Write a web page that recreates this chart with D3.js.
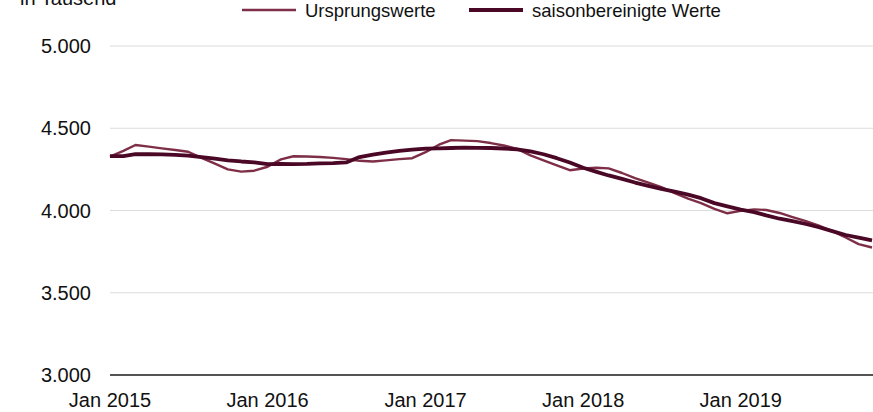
<!DOCTYPE html>
<html><head><meta charset="utf-8">
<script src="https://cdn.jsdelivr.net/npm/d3@7/dist/d3.min.js"></script>
<style>
body{margin:0;background:#fff;}
svg{display:block;font-family:"Liberation Sans",Arial,sans-serif;}
</style></head>
<body><svg id="chart" width="873" height="412"></svg>
<script>
// Monthly data, Jan 2015 – Nov 2019 (in Tausend)
const startYear = 2015;
const ursprungswerte = [
  4327,4362,4398,4388,4378,4368,4357,4320,4285,4250,4236,4242,
  4266,4311,4330,4328,4325,4320,4312,4302,4298,4305,4312,4318,
  4355,4400,4428,4425,4422,4410,4395,4375,4335,4305,4275,4245,
  4255,4260,4256,4228,4197,4170,4142,4105,4072,4045,4010,3983,
  3998,4007,4003,3985,3960,3935,3908,3875,3836,3796,3775
];
const saisonbereinigt = [
  4331,4330,4343,4342,4341,4338,4333,4325,4315,4305,4298,4293,
  4282,4283,4282,4283,4286,4288,4292,4325,4340,4352,4363,4370,
  4376,4378,4380,4382,4381,4380,4377,4372,4360,4342,4318,4292,
  4260,4235,4213,4192,4170,4150,4132,4115,4096,4075,4045,4025,
  4005,3990,3970,3950,3935,3918,3898,3875,3851,3835,3818
];
const yTicks = [3000,3500,4000,4500,5000];
const xTickLabels = ["Jan 2015","Jan 2016","Jan 2017","Jan 2018","Jan 2019"];
const seriesNames = ["Ursprungswerte","saisonbereinigte Werte"];
const unitLabel = "in Tausend";

const dates = ursprungswerte.map((_, i) => new Date(startYear, i, 1));
const svg = d3.select("#chart");
const mLeft = 110, mRight = 872, mTop = 46, mBottom = 375;

const x = d3.scaleTime().domain([dates[0], dates[dates.length-1]]).range([mLeft, mRight]);
const y = d3.scaleLinear().domain([3000,5000]).range([mBottom, mTop]);
const fmt = d3.formatLocale({decimal:",",thousands:".",grouping:[3],currency:["","€"]}).format(",.0f");

// gridlines
svg.append("g").selectAll("line").data(yTicks.filter(t => t > 3000)).join("line")
  .attr("x1", mLeft).attr("x2", 873)
  .attr("y1", d => y(d)).attr("y2", d => y(d))
  .attr("stroke", "#dcdcdc").attr("stroke-width", 1);

// y labels
svg.append("g").selectAll("text").data(yTicks).join("text")
  .attr("x", 91).attr("y", d => y(d)).attr("dy", "0.36em")
  .attr("text-anchor", "end").attr("font-size", 20).attr("fill", "#111")
  .text(d => fmt(d));

// x axis line
svg.append("line").attr("x1", mLeft).attr("x2", 873).attr("y1", mBottom).attr("y2", mBottom)
  .attr("stroke", "#555").attr("stroke-width", 2);

// x labels
const xTicks = xTickLabels.map((_, i) => new Date(startYear + i, 0, 1));
svg.append("g").selectAll("text").data(xTicks).join("text")
  .attr("x", d => x(d)).attr("y", 407)
  .attr("text-anchor", "middle").attr("font-size", 20).attr("fill", "#111")
  .text((d, i) => xTickLabels[i]);

// unit label (partly above the top edge, as in the reference)
svg.append("text").attr("x", 20).attr("y", 5).attr("font-size", 20).attr("fill", "#111").text(unitLabel);

const line = d3.line().x((d, i) => x(dates[i])).y(d => y(d));
svg.append("path").datum(ursprungswerte).attr("d", line)
  .attr("fill", "none").attr("stroke", "#7e2f47").attr("stroke-width", 2.4).attr("stroke-linejoin", "round");
svg.append("path").datum(saisonbereinigt).attr("d", line)
  .attr("fill", "none").attr("stroke", "#4a0826").attr("stroke-width", 3.8).attr("stroke-linejoin", "round");

// legend
const leg = [
  {name: seriesNames[0], x: 242, color: "#7e2f47", w: 2.4},
  {name: seriesNames[1], x: 469, color: "#4a0826", w: 3.8}
];
const lg = svg.append("g").selectAll("g").data(leg).join("g");
lg.append("line").attr("x1", d => d.x).attr("x2", d => d.x + 54).attr("y1", 10).attr("y2", 10)
  .attr("stroke", d => d.color).attr("stroke-width", d => d.w);
lg.append("text").attr("x", d => d.x + 63).attr("y", 10).attr("dy", "0.36em")
  .attr("font-size", 18.5).attr("fill", "#111").text(d => d.name);
</script></body></html>
